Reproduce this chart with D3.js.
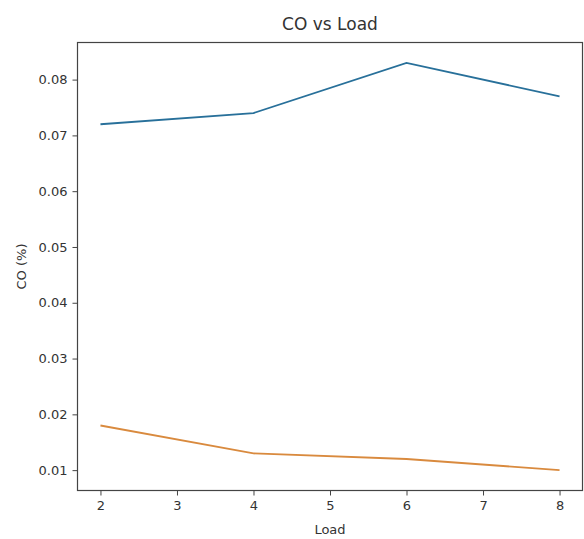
<!DOCTYPE html>
<html lang="en">
<head>
    <meta charset="UTF-8">
    <title>CO vs Load</title>
    <script src="https://d3js.org/d3.v7.min.js"></script>
    <style>
        body { margin: 0; background: #fff; }
        text { font-family: "DejaVu Sans", sans-serif; fill: #333; }
        .axis text { font-size: 13px; fill: #333; }
        .axis path, .axis line { stroke: #444; }
    </style>
</head>
<body>
<svg id="main" width="584" height="539"></svg>
<script>
    // data
    const loads = [2, 4, 6, 8];
    const coUpper = [0.072, 0.074, 0.083, 0.077];
    const coLower = [0.018, 0.013, 0.012, 0.010];
    const xTicks = [2, 3, 4, 5, 6, 7, 8];
    const yTicks = [0.01, 0.02, 0.03, 0.04, 0.05, 0.06, 0.07, 0.08];

    let svg = d3.select('svg#main');
    let box = {left: 77.5, right: 582.5, top: 42.5, bottom: 490.5};

    let xScale = d3.scaleLinear()
        .domain([1.7, 8.3])
        .range([box.left, box.right]);
    let yScale = d3.scaleLinear()
        .domain([0.00635, 0.08665])
        .range([box.bottom, box.top]);

    // frame
    svg.append('rect')
        .attr('x', box.left).attr('y', box.top)
        .attr('width', box.right - box.left)
        .attr('height', box.bottom - box.top)
        .attr('fill', 'none')
        .attr('stroke', '#444')
        .attr('stroke-width', 1.2);

    // axes
    svg.append('g')
        .attr('class', 'axis')
        .attr('transform', 'translate(0,' + box.bottom + ')')
        .call(d3.axisBottom(xScale).tickValues(xTicks).tickFormat(d3.format('d')).tickSize(5).tickPadding(5))
        .call(g => g.select('.domain').remove());
    svg.append('g')
        .attr('class', 'axis')
        .attr('transform', 'translate(' + box.left + ',0)')
        .call(d3.axisLeft(yScale).tickValues(yTicks).tickFormat(d3.format('.2f')).tickSize(5).tickPadding(5))
        .call(g => g.select('.domain').remove());

    // lines
    let line = d3.line()
        .x(d => xScale(d[0]))
        .y(d => yScale(d[1]));

    svg.append('path')
        .datum(loads.map((l, i) => [l, coUpper[i]]))
        .attr('d', line)
        .attr('fill', 'none')
        .attr('stroke', '#28709a')
        .attr('stroke-width', 1.8);
    svg.append('path')
        .datum(loads.map((l, i) => [l, coLower[i]]))
        .attr('d', line)
        .attr('fill', 'none')
        .attr('stroke', '#d98a3e')
        .attr('stroke-width', 1.8);

    // labels
    svg.append('text')
        .attr('x', (box.left + box.right) / 2)
        .attr('y', 30)
        .attr('text-anchor', 'middle')
        .style('font-size', '17px')
        .text('CO vs Load');
    svg.append('text')
        .attr('x', (box.left + box.right) / 2)
        .attr('y', 534)
        .attr('text-anchor', 'middle')
        .style('font-size', '13px')
        .text('Load');
    svg.append('text')
        .attr('transform', 'translate(26,' + ((box.top + box.bottom) / 2) + ') rotate(-90)')
        .attr('text-anchor', 'middle')
        .style('font-size', '13px')
        .text('CO (%)');
</script>
</body>
</html>
